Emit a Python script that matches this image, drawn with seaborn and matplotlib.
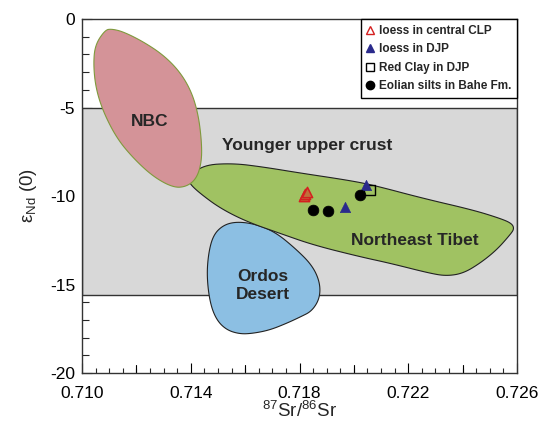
import numpy as np
import pandas as pd
import matplotlib
matplotlib.use("Agg")
import matplotlib.pyplot as plt
from matplotlib.patches import Polygon
from matplotlib.lines import Line2D
from matplotlib.ticker import MultipleLocator
import seaborn as sns

# ---------------- data ----------------
# source field outlines (87Sr/86Sr, eNd(0))
nbc_sr = [0.71085, 0.71048, 0.71042, 0.71051, 0.71078, 0.71128, 0.71189, 0.71262, 0.71336,
          0.71385, 0.71422, 0.71440, 0.71440, 0.71428, 0.71403, 0.71360, 0.71299, 0.71225,
          0.71152, 0.71109]
nbc_nd = [-0.62, -1.47, -2.60, -3.92, -5.24, -6.74, -7.87, -8.91, -9.53,
          -9.47, -9.00, -8.06, -6.93, -5.42, -4.11, -2.98, -2.03, -1.28,
          -0.72, -0.56]

tibet_sr = [0.71390, 0.71445, 0.71555, 0.71666, 0.71802, 0.71975, 0.72070, 0.72254, 0.72438,
            0.72537, 0.72580, 0.72590, 0.72574, 0.72525, 0.72464, 0.72402, 0.72341, 0.72280,
            0.72133, 0.72022, 0.71851, 0.71728, 0.71606, 0.71508, 0.71434, 0.71397]
tibet_nd = [-8.98, -8.25, -8.15, -8.36, -8.70, -9.10, -9.38, -10.13, -10.79,
            -11.26, -11.54, -11.85, -12.20, -13.05, -13.80, -14.37, -14.52, -14.37,
            -13.80, -13.43, -12.77, -12.11, -11.45, -10.69, -9.85, -9.32]

ordos_sr = [0.71569, 0.71636, 0.71710, 0.71783, 0.71846, 0.71875, 0.71875, 0.71846, 0.71802,
            0.71753, 0.71691, 0.71630, 0.71581, 0.71532, 0.71495, 0.71471, 0.71459, 0.71465,
            0.71483, 0.71520]
ordos_nd = [-11.45, -11.58, -12.03, -12.94, -13.90, -14.86, -15.76, -16.50, -16.84,
            -17.19, -17.57, -17.76, -17.80, -17.57, -17.01, -16.06, -14.56, -13.24,
            -12.20, -11.64]

# younger upper crust band (eNd range)
crust_nd = [-15.6, -5.0]

# samples
clp_sr = [0.71815, 0.71821, 0.71827]
clp_nd = [-10.00, -9.90, -9.80]
djp_sr = [0.71967, 0.72045]
djp_nd = [-10.62, -9.40]
redclay_sr = [0.72058]
redclay_nd = [-9.66]
bahe_sr = [0.71848, 0.71904, 0.72022]
bahe_nd = [-10.79, -10.83, -9.94]

legend_labels = ["loess in central CLP", "loess in DJP", "Red Clay in DJP", "Eolian silts in Bahe Fm."]
x_ticks = [0.710, 0.714, 0.718, 0.722, 0.726]
y_ticks = [0, -5, -10, -15, -20]

# ---------------- style ----------------
sns.set_style("ticks")
plt.rcParams["font.family"] = ["Liberation Sans", "DejaVu Sans"]
plt.rcParams["mathtext.default"] = "regular"

fig = plt.figure(figsize=(5.42, 4.37), dpi=100)
ax = fig.add_axes([82 / 542, 1 - 373 / 437, (517 - 82) / 542, (373 - 19) / 437])


def smooth(xs, ys, it=3):
    p = np.column_stack([xs, ys])
    for _ in range(it):
        q = np.roll(p, -1, axis=0)
        a = 0.75 * p + 0.25 * q
        b = 0.25 * p + 0.75 * q
        p = np.empty((2 * len(a), 2))
        p[0::2] = a
        p[1::2] = b
    return p


ax.axhspan(crust_nd[0], crust_nd[1], facecolor="#d8d8d8", edgecolor="#333333", lw=1.0, zorder=1)

ax.add_patch(Polygon(smooth(ordos_sr, ordos_nd), closed=True, facecolor="#8cbfe3",
                     edgecolor="#222222", lw=0.8, zorder=2))
ax.add_patch(Polygon(smooth(tibet_sr, tibet_nd), closed=True, facecolor="#a0c262",
                     edgecolor="#222222", lw=0.8, zorder=3))
ax.add_patch(Polygon(smooth(nbc_sr, nbc_nd), closed=True, facecolor="#d49398",
                     edgecolor="#7f9a3c", lw=0.8, zorder=4))

# samples
sns.scatterplot(x=redclay_sr, y=redclay_nd, marker="s", s=55, ax=ax, zorder=6,
                color="white", edgecolor="black", linewidth=1.0)
ax.collections[-1].set_facecolor("none")
sns.scatterplot(x=clp_sr, y=clp_nd, marker="^", s=55, ax=ax, zorder=6,
                color="#c0703a", edgecolor="#d42020", linewidth=1.1)
sns.scatterplot(x=djp_sr, y=djp_nd, marker="^", s=55, ax=ax, zorder=7,
                color="#2a2a8c", edgecolor="#2a2a8c", linewidth=0.5)
sns.scatterplot(x=bahe_sr, y=bahe_nd, marker="o", s=60, ax=ax, zorder=7,
                color="black", edgecolor="black", linewidth=0.5)

# labels in the plot
ax.text(0.7125, -5.8, "NBC", fontsize=12.5, fontweight="bold", ha="center", va="center", zorder=8)
ax.text(0.71515, -7.12, "Younger upper crust", fontsize=12.5, fontweight="bold", ha="left", va="center", zorder=8)
ax.text(0.72225, -12.5, "Northeast Tibet", fontsize=12.5, fontweight="bold", ha="center", va="center", zorder=8)
ax.text(0.71665, -15.05, "Ordos\nDesert", fontsize=12.5, fontweight="bold", ha="center", va="center",
        linespacing=1.25, zorder=8)

ax.set_xlim(0.710, 0.726)
ax.set_ylim(-20, 0)

ax.set_xticks(x_ticks)
ax.set_xticklabels([f"{v:.3f}" for v in x_ticks])
ax.xaxis.set_minor_locator(MultipleLocator(0.0005))
ax.set_yticks(y_ticks)
ax.set_yticklabels([f"{v:d}" for v in y_ticks])
ax.yaxis.set_minor_locator(MultipleLocator(1))

ax.tick_params(axis="both", which="major", direction="in", length=7, width=0.8,
               labelsize=12.5, colors="black", top=False, right=False)
ax.tick_params(axis="x", which="major", pad=9)
ax.tick_params(axis="y", which="major", pad=5)
ax.tick_params(axis="x", which="minor", direction="in", length=3.5, width=0.8, top=False)
ax.tick_params(axis="y", which="minor", direction="in", length=5, width=0.8, right=False)
# longer ticks at every 0.002
for xv in [0.712, 0.716, 0.720, 0.724]:
    ax.plot([xv, xv], [-20, -19.55], color="black", lw=0.8, zorder=9, clip_on=False)

for sp in ax.spines.values():
    sp.set_color("#333333")
    sp.set_linewidth(1.0)
    sp.set_zorder(10)

ax.set_xlabel(r"$^{87}$Sr/$^{86}$Sr", fontsize=13.5, labelpad=0)
ax.set_ylabel(r"ε$_{Nd}$ (0)", fontsize=13.5, labelpad=8)

handles = [
    Line2D([], [], ls="none", marker="^", ms=6, mfc="none", mec="#d42020", mew=1.0),
    Line2D([], [], ls="none", marker="^", ms=6, mfc="#2a2a8c", mec="#2a2a8c"),
    Line2D([], [], ls="none", marker="s", ms=6, mfc="none", mec="black", mew=1.0),
    Line2D([], [], ls="none", marker="o", ms=6, mfc="black", mec="black"),
]
leg = ax.legend(handles, legend_labels, loc="upper right", bbox_to_anchor=(1.0, 1.0),
                borderaxespad=0.0, frameon=True, fancybox=False, framealpha=1,
                edgecolor="black", handlelength=0.6, handletextpad=0.4, labelspacing=0.55,
                borderpad=0.5, prop={"weight": "bold", "size": 8.5})
leg.get_frame().set_linewidth(1.0)
leg.set_zorder(11)

fig.savefig("out.png", dpi=100)
